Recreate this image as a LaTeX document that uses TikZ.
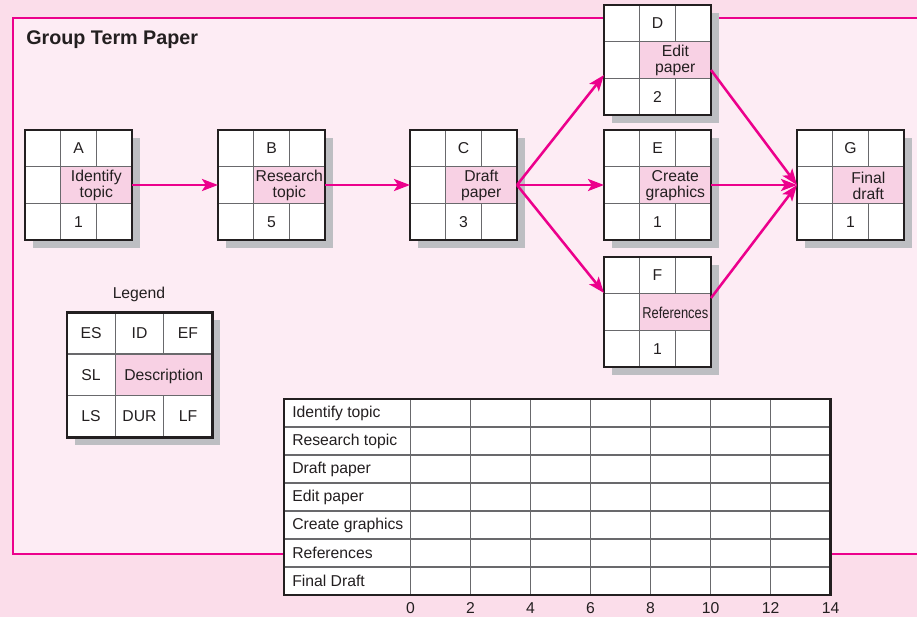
\documentclass[tikz,border=0pt]{standalone}
\usepackage{fontspec}
\setmainfont{Liberation Sans}
\usepackage{graphicx}
\usetikzlibrary{arrows.meta,calc,positioning}
\definecolor{gtInk}{RGB}{35,31,32}
\definecolor{gtMagenta}{RGB}{236,0,140}
\definecolor{gtBlush}{RGB}{251,221,234}
\definecolor{gtPaper}{RGB}{253,236,244}
\definecolor{gtDesc}{RGB}{248,209,228}
\definecolor{gtShade}{RGB}{189,190,194}
\definecolor{gtGrid}{RGB}{105,105,108}
\tikzset{
  boxtext/.style={font=\fontsize{11.8}{12}\selectfont, text=gtInk, inner sep=0pt, align=center},
  boxframe/.style={draw=gtInk, line width=1.8pt, inner sep=0pt, outer sep=0pt},
  gridline/.style={draw=gtGrid, line width=0.8pt},
  flow/.style={draw=gtMagenta, line width=1.9pt, -{Stealth[length=12pt,width=9pt,inset=2.8pt]}},
}
\newcommand{\activitybox}[4]{%
  \fill[gtShade] (8,8) rectangle (115,118);
  \fill[white] (0,0) rectangle (107,110);
  \fill[gtDesc] (35.67,36.67) rectangle (107,73.33);
  \draw[gridline] (35.67,0) -- (35.67,110) (71.33,0) -- (71.33,36.67) (71.33,73.33) -- (71.33,110)
    (0,36.67) -- (107,36.67) (0,73.33) -- (107,73.33);
  \node[boxframe, minimum width=80.25pt, minimum height=82.5pt] (#1) at (53.5,55) {};
  \node[boxtext] (#1-id) at (53.5,18.33) {#2};
  \node[boxtext] (#1-desc) at (71.33,55.5) {#3};
  \node[boxtext] (#1-dur) at (53.5,91.67) {#4};
}

\begin{document}
\begin{tikzpicture}[x=0.75pt,y=-0.75pt]
  \useasboundingbox (0,0) rectangle (917,617);
  \fill[gtBlush] (0,0) rectangle (917,617);
  \draw[gtMagenta, line width=1.5pt, fill=gtPaper] (13,18) rectangle (940,554);
  \node[font=\fontsize{14.8}{17}\selectfont\bfseries, text=gtInk, anchor=base west, inner sep=0pt] (title) at (26,45) {Group Term Paper};

  \begin{scope}[shift={(25,130)}]\activitybox{A}{A}{Identify\\topic}{1}\end{scope}
  \begin{scope}[shift={(218,130)}]\activitybox{B}{B}{Research\\topic}{5}\end{scope}
  \begin{scope}[shift={(410,130)}]\activitybox{C}{C}{Draft\\paper}{3}\end{scope}
  \begin{scope}[shift={(604,5)}]\activitybox{D}{D}{Edit\\paper}{2}\end{scope}
  \begin{scope}[shift={(604,130)}]\activitybox{E}{E}{Create\\graphics}{1}\end{scope}
  \begin{scope}[shift={(604,257)}]\activitybox{F}{F}{\scalebox{0.82}[1]{References}}{1}\end{scope}
  \begin{scope}[shift={(797,130)}]\activitybox{G}{G}{Final\\draft}{1}\end{scope}

  \draw[flow] (A.east) -- (B.west);
  \draw[flow] (B.east) -- (C.west);
  \draw[flow] (C.east) -- ($(D.west)+(0,15)$);
  \draw[flow] (C.east) -- (E.west);
  \draw[flow] (C.east) -- ($(F.west)+(0,-19)$);
  \draw[flow] ($(D.east)+(0,10)$) -- (G.west);
  \draw[flow] (E.east) -- (G.west);
  \draw[flow] ($(F.east)+(0,-14)$) -- (G.west);

  \node[boxtext] (legend-title) at (139,294) {Legend};
  \begin{scope}[shift={(66.7,312.3)}]
    \fill[gtShade] (8,8) rectangle (153.6,133);
    \fill[white] (0,0) rectangle (145.6,125);
    \fill[gtDesc] (48.5,41.7) rectangle (145.6,83.3);
    \draw[gridline] (48.5,0) -- (48.5,125) (97,0) -- (97,41.7) (97,83.3) -- (97,125)
      (0,41.7) -- (145.6,41.7) (0,83.3) -- (145.6,83.3);
    \node[boxframe, minimum width=109.2pt, minimum height=93.75pt] (legend) at (72.8,62.5) {};
    \node[boxtext] (legend-es) at (24.3,20.8) {ES};
    \node[boxtext] (legend-id) at (72.8,20.8) {ID};
    \node[boxtext] (legend-ef) at (121.3,20.8) {EF};
    \node[boxtext] (legend-sl) at (24.3,62.5) {SL};
    \node[boxtext] (legend-desc) at (97,64.5) {Description};
    \node[boxtext] (legend-ls) at (24.3,104.2) {LS};
    \node[boxtext] (legend-dur) at (72.8,104.2) {DUR};
    \node[boxtext] (legend-lf) at (121.3,104.2) {LF};
  \end{scope}

  \begin{scope}[shift={(284,399)}]
    \fill[white] (0,0) rectangle (546.5,196);
    \foreach \k in {0,...,6}
      \draw[gridline] (126.5+60*\k,0) -- (126.5+60*\k,196);
    \foreach \r in {1,...,6}
      \draw[gridline] (0,28*\r) -- (546.5,28*\r);
    \node[boxframe, minimum width=409.875pt, minimum height=147pt] (gantt) at (273.25,98) {};
    \foreach \task [count=\r] in {Identify topic,Research topic,Draft paper,Edit paper,Create graphics,References,Final Draft}
      \node[boxtext, anchor=west] (task-\r) at (8,28*\r-14) {\task};
    \foreach \t [count=\k from 0] in {0,2,...,14}
      \node[boxtext] (tick-\t) at (126.5+60*\k,209) {\t};
  \end{scope}
\end{tikzpicture}
\end{document}
